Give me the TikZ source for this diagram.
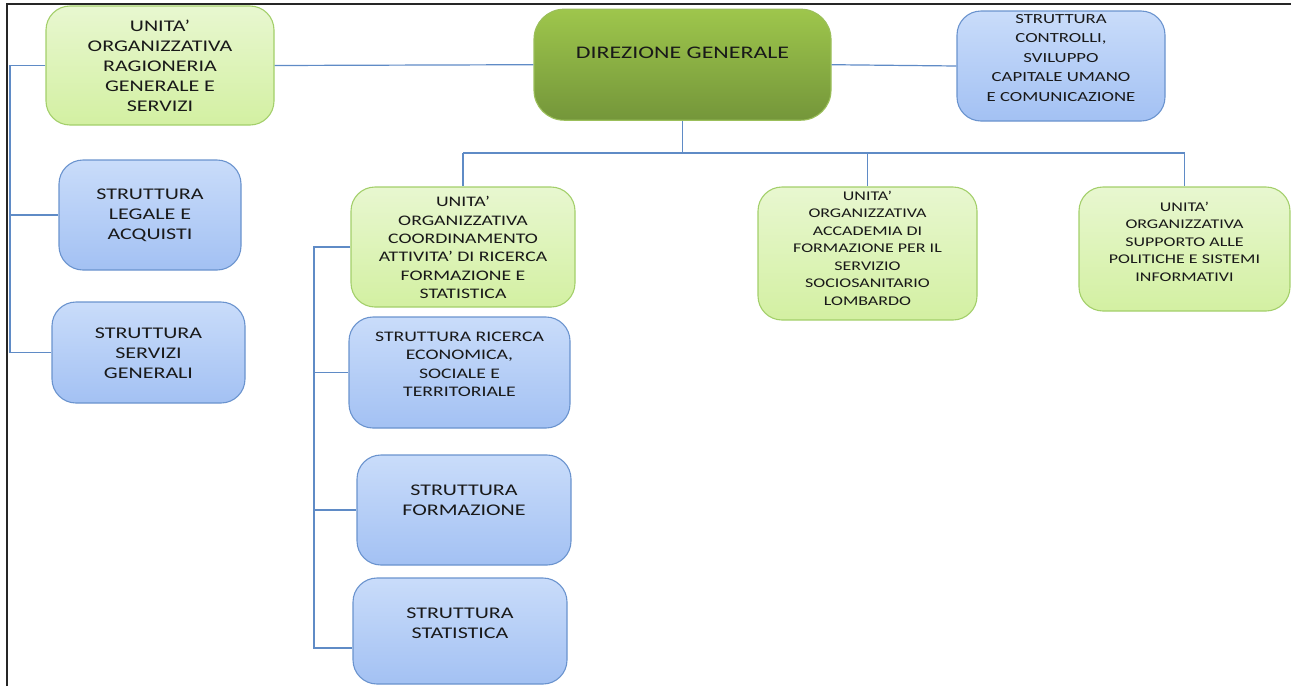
\documentclass[tikz,border=0pt]{standalone}
\usepackage{fontspec}
\setmainfont[FakeStretch=1.35]{Carlito}
\usepackage{tikz}
\usetikzlibrary{calc}

\definecolor{unitatop}{HTML}{E8F7D0}
\definecolor{unitabot}{HTML}{D3F0A2}
\definecolor{unitaline}{HTML}{A3CF6A}
\definecolor{dirtop}{HTML}{9EC64C}
\definecolor{dirbot}{HTML}{74963A}
\definecolor{dirline}{HTML}{9BBF5A}
\definecolor{strutttop}{HTML}{C9DCFA}
\definecolor{struttbot}{HTML}{A3C1F3}
\definecolor{struttline}{HTML}{6A93CE}
\definecolor{connline}{HTML}{5F8BC6}

\begin{document}
\begin{tikzpicture}[x=1pt,y=-1pt,
    box/.style={rounded corners=24pt, line width=1.1pt, inner sep=0pt},
    unita/.style={box, draw=unitaline, top color=unitatop, bottom color=unitabot},
    strutt/.style={box, draw=struttline, top color=strutttop, bottom color=struttbot},
    testo/.style={align=center, inner sep=0pt, text=black!90},
    grande/.style={testo, font=\fontsize{16.3}{20}\selectfont},
    medio/.style={testo, font=\fontsize{14.6}{18.4}\selectfont},
    piccolo/.style={testo, font=\fontsize{13.3}{17.5}\selectfont},
    conn/.style={draw=connline, line width=1.2pt}]
    \useasboundingbox (0,0) rectangle (1291,686);

    % boxes
    \node[unita, minimum width=228pt, minimum height=119pt] (rag) at (160,65.5) {};
    \node[box, draw=dirline, top color=dirtop, bottom color=dirbot, rounded corners=30pt,
          minimum width=297pt, minimum height=111pt] (dir) at (682.5,64.7) {};
    \node[strutt, minimum width=208pt, minimum height=110pt] (ctl) at (1061,66) {};
    \node[strutt, minimum width=182pt, minimum height=110pt] (leg) at (150,215) {};
    \node[strutt, minimum width=193pt, minimum height=101pt] (ser) at (148.5,352.5) {};
    \node[unita, minimum width=224pt, minimum height=120pt] (coo) at (463,247) {};
    \node[unita, minimum width=219pt, minimum height=133pt] (acc) at (867.5,253.5) {};
    \node[unita, minimum width=211pt, minimum height=124pt] (sup) at (1184.5,249) {};
    \node[strutt, minimum width=221pt, minimum height=111pt] (ric) at (459.5,372.5) {};
    \node[strutt, minimum width=214pt, minimum height=110pt] (for) at (464,510) {};
    \node[strutt, minimum width=214pt, minimum height=106pt] (sta) at (460,631) {};

    % texts
    \node[grande] (ragtxt) at (rag |- 0,66) {UNITA’\\ORGANIZZATIVA\\RAGIONERIA\\GENERALE E\\SERVIZI};
    \node[testo, font=\fontsize{17.7}{21}\selectfont] (dirtxt) at (dir |- 0,53.3) {DIREZIONE GENERALE};
    \node[testo, font=\fontsize{13.9}{19.5}\selectfont] (ctltxt) at (ctl |- 0,58) {STRUTTURA\\CONTROLLI,\\SVILUPPO\\CAPITALE UMANO\\E COMUNICAZIONE};
    \node[grande] (legtxt) at (leg |- 0,215.5) {STRUTTURA\\LEGALE E\\ACQUISTI};
    \node[grande] (sertxt) at (ser |- 0,353) {STRUTTURA\\SERVIZI\\GENERALI};
    \node[medio] (cootxt) at (coo |- 0,247.5) {UNITA’\\ORGANIZZATIVA\\COORDINAMENTO\\ATTIVITA’ DI RICERCA\\FORMAZIONE E\\STATISTICA};
    \node[piccolo] (acctxt) at (acc |- 0,248) {UNITA’\\ORGANIZZATIVA\\ACCADEMIA DI\\FORMAZIONE PER IL\\SERVIZIO\\SOCIOSANITARIO\\LOMBARDO};
    \node[piccolo] (suptxt) at (sup |- 0,241.5) {UNITA’\\ORGANIZZATIVA\\SUPPORTO ALLE\\POLITICHE E SISTEMI\\INFORMATIVI};
    \node[medio] (rictxt) at (ric |- 0,364.5) {STRUTTURA RICERCA\\ECONOMICA,\\SOCIALE E\\TERRITORIALE};
    \node[grande] (fortxt) at (for |- 0,500) {STRUTTURA\\FORMAZIONE};
    \node[grande] (statxt) at (sta |- 0,623) {STRUTTURA\\STATISTICA};

    % connectors
    \coordinate (lbus) at (10,0);
    \coordinate (tbus) at (0,153);
    \coordinate (cbus) at (314,0);
    \draw[conn] (rag.west) -- (rag.west -| lbus) |- (ser.west);
    \draw[conn] (leg.west -| lbus) -- (leg.west);
    \draw[conn] (rag.east) -- (dir.west);
    \draw[conn] (dir.east) -- (ctl.west);
    \draw[conn] (dir.south) -- (dir.south |- tbus);
    \draw[conn] (coo.north |- tbus) -- (sup.north |- tbus);
    \foreach \n in {coo,acc,sup}
        \draw[conn] (\n.north |- tbus) -- (\n.north);
    \draw[conn] (coo.west) -- (coo.west -| cbus) |- ([yshift=-17pt]sta.west);
    \foreach \n in {ric,for}
        \draw[conn] (\n.west -| cbus) -- (\n.west);

    % frame
    \draw[line width=2pt, black!85] (7,686) -- (7,4) -- (1291,4);
\end{tikzpicture}
\end{document}
